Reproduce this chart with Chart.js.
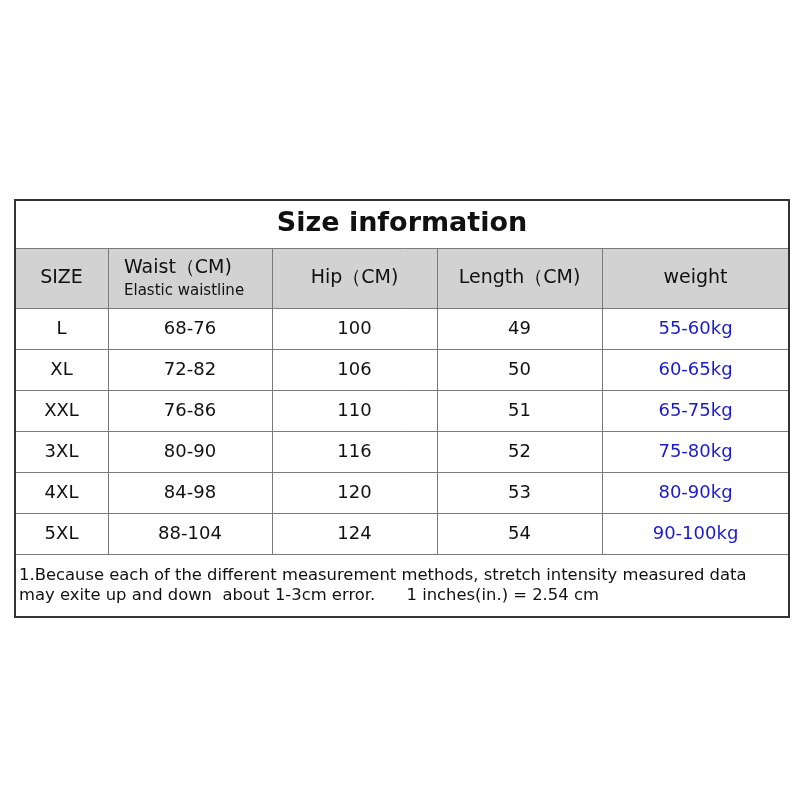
<!DOCTYPE html>
<html><head><meta charset="utf-8">
<script src="https://cdn.jsdelivr.net/npm/chart.js@4"></script>
<style>html,body{margin:0;padding:0;background:#fff}</style>
</head><body>
<canvas id="c" width="800" height="800"></canvas>
<script>
const title = "Size information";
const headers = ["SIZE", "Waist（CM)", "Hip（CM)", "Length（CM)", "weight"];
const headerSub = "Elastic waistline";
const sizes = ["L", "XL", "XXL", "3XL", "4XL", "5XL"];
const waist = ["68-76", "72-82", "76-86", "80-90", "84-98", "88-104"];
const hip = ["100", "106", "110", "116", "120", "124"];
const length = ["49", "50", "51", "52", "53", "54"];
const weight = ["55-60kg", "60-65kg", "65-75kg", "75-80kg", "80-90kg", "90-100kg"];
const note1 = "1.Because each of the different measurement methods, stretch intensity measured data";
const note2 = "may exite up and down  about 1-3cm error.      1 inches(in.) = 2.54 cm";

const colX = [15, 108, 272, 437, 602, 789];
const rowY = [200, 248, 308, 349, 390, 431, 472, 513, 554, 617];

const tablePlugin = {
  id: 'table',
  afterDraw(chart) {
    const ctx = chart.ctx, sx = chart.scales.x, sy = chart.scales.y;
    const X = v => sx.getPixelForValue(v), Y = v => sy.getPixelForValue(v);
    ctx.save();
    ctx.fillStyle = '#d2d2d2';
    ctx.fillRect(X(colX[0]), Y(rowY[1]), X(colX[5]) - X(colX[0]), Y(rowY[2]) - Y(rowY[1]));
    ctx.strokeStyle = '#7a7a7a'; ctx.lineWidth = 1;
    const line = (x1, y1, x2, y2) => { ctx.beginPath(); ctx.moveTo(Math.round(X(x1))+0.5, Math.round(Y(y1))+0.5); ctx.lineTo(Math.round(X(x2))+0.5, Math.round(Y(y2))+0.5); ctx.stroke(); };
    for (let i = 1; i < rowY.length - 1; i++) line(colX[0], rowY[i], colX[5], rowY[i]);
    for (let j = 1; j < colX.length - 1; j++) line(colX[j], rowY[1], colX[j], rowY[8]);
    ctx.strokeStyle = '#333'; ctx.lineWidth = 2;
    ctx.strokeRect(X(colX[0]), Y(rowY[0]), X(colX[5]) - X(colX[0]), Y(rowY[9]) - Y(rowY[0]));
    ctx.textBaseline = 'middle'; ctx.textAlign = 'center';
    ctx.fillStyle = '#111';
    ctx.font = 'bold 27px "DejaVu Sans"';
    ctx.fillText(title, X(402), Y(224));
    ctx.font = '19px "DejaVu Sans"';
    const cx = j => X((colX[j] + colX[j+1]) / 2);
    ctx.fillText(headers[0], cx(0), Y(278));
    ctx.textAlign = 'left';
    ctx.fillText(headers[1], X(124), Y(268));
    ctx.font = '15px "DejaVu Sans"';
    ctx.fillText(headerSub, X(124), Y(291));
    ctx.textAlign = 'center';
    ctx.font = '19px "DejaVu Sans"';
    for (let j = 2; j < 5; j++) ctx.fillText(headers[j], cx(j), Y(278));
    ctx.font = '18px "DejaVu Sans"';
    const cols = [sizes, waist, hip, length, weight];
    for (let r = 0; r < sizes.length; r++) {
      const yc = Y((rowY[r+2] + rowY[r+3]) / 2 + 1);
      for (let j = 0; j < 5; j++) {
        ctx.fillStyle = j === 4 ? '#1a1ad0' : '#111';
        ctx.fillText(cols[j][r], cx(j), yc);
      }
    }
    ctx.fillStyle = '#111'; ctx.textAlign = 'left';
    ctx.font = '16.4px "DejaVu Sans"';
    ctx.fillText(note1, X(19), Y(576));
    ctx.fillText(note2, X(19), Y(596));
    ctx.restore();
  }
};

new Chart(document.getElementById('c'), {
  type: 'scatter',
  data: { datasets: [{ data: [] }] },
  options: {
    responsive: false, animation: false,
    layout: { padding: 0 },
    plugins: { legend: { display: false }, tooltip: { enabled: false } },
    scales: {
      x: { type: 'linear', min: 0, max: 800, display: false },
      y: { type: 'linear', min: 0, max: 800, reverse: true, display: false }
    }
  },
  plugins: [tablePlugin]
});
</script>
</body></html>
